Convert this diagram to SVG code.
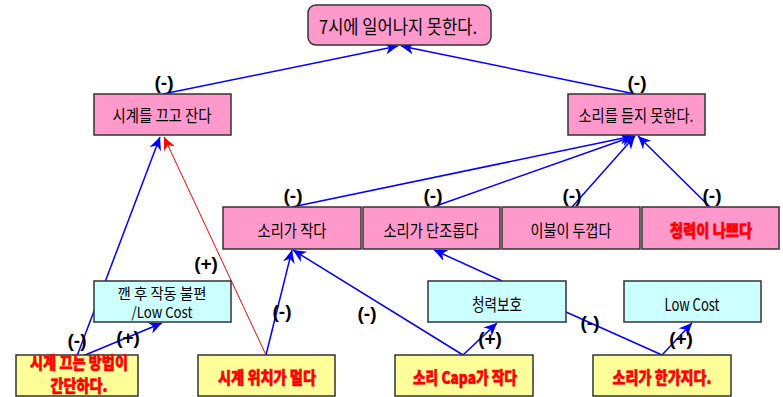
<svg xmlns="http://www.w3.org/2000/svg" width="783" height="397" viewBox="0 0 783 397">
<defs>
<marker id="ab" markerUnits="userSpaceOnUse" markerWidth="14" markerHeight="12" refX="13" refY="6" orient="auto"><path d="M0,0 L13,6 L0,12 L4,6 z" fill="#0000FF"/></marker>
<marker id="ar" markerUnits="userSpaceOnUse" markerWidth="14" markerHeight="12" refX="13" refY="6" orient="auto"><path d="M0,0 L13,6 L0,12 L4,6 z" fill="#FF0000"/></marker>
<style>
.pink{fill:#FF99CC;stroke:#333;stroke-width:1.5}
.cyan{fill:#CCFFFF;stroke:#333;stroke-width:1.5}
.yel{fill:#FFFF99;stroke:#333;stroke-width:1.5}
.t{font-family:"Noto Sans CJK KR","Liberation Sans",sans-serif;font-size:17px;fill:#000;text-anchor:middle}
.s{font-size:15px}
.xs{font-size:13px}
.r{font-family:"Noto Sans CJK KR","Liberation Sans",sans-serif;font-size:17px;font-weight:900;fill:#FF0000;stroke:#FF0000;stroke-width:0.6;text-anchor:middle}
.lb{font-family:"Liberation Sans","DejaVu Sans",sans-serif;font-size:19px;font-weight:bold;fill:#000;text-anchor:middle}
.cb{stroke:#0000FF;stroke-width:1.5;fill:none;marker-end:url(#ab)}
.cn{stroke:#0000FF;stroke-width:1.5;fill:none}
.cr{stroke:#FF0000;stroke-width:1;fill:none;marker-end:url(#ar)}
</style>
</defs>
<rect width="783" height="397" fill="#FFFFFF"/>
<g id="connectors">
<line class="cb" x1="163" y1="94" x2="398" y2="46"/>
<line class="cb" x1="635" y1="94" x2="401" y2="46"/>
<line class="cb" x1="292" y1="207" x2="633" y2="136"/>
<line class="cb" x1="433" y1="207" x2="634" y2="136"/>
<line class="cb" x1="572" y1="207" x2="635" y2="136"/>
<line class="cb" x1="710" y1="207" x2="638" y2="136"/>
<line class="cb" x1="77" y1="356" x2="160" y2="137"/>
<line class="cr" x1="266" y1="355" x2="164" y2="137"/>
<line class="cb" x1="266" y1="355" x2="292" y2="250"/>
<line class="cb" x1="463" y1="355" x2="293" y2="250"/>
<line class="cb" x1="463" y1="355" x2="497" y2="323"/>
<line class="cb" x1="502" y1="281" x2="434" y2="250"/>
<line class="cn" x1="662" y1="355" x2="566" y2="312"/>
<line class="cb" x1="662" y1="355" x2="692" y2="323"/>
<line class="cb" x1="78" y1="358" x2="162" y2="323"/>
</g>
<g id="labels">
<text class="lb" x="164" y="89">(-)</text>
<text class="lb" x="637" y="89">(-)</text>
<text class="lb" x="293" y="202">(-)</text>
<text class="lb" x="433" y="202">(-)</text>
<text class="lb" x="572" y="202">(-)</text>
<text class="lb" x="712" y="202">(-)</text>
<text class="lb" x="206" y="270">(+)</text>
<text class="lb" x="77" y="347">(-)</text>
<text class="lb" x="128" y="344">(+)</text>
<text class="lb" x="282" y="318">(-)</text>
<text class="lb" x="367" y="320">(-)</text>
<text class="lb" x="490" y="345">(+)</text>
<text class="lb" x="590" y="329">(-)</text>
<text class="lb" x="681" y="345">(+)</text>
</g>
<g id="n_top"><rect class="pink" x="308" y="5" width="183" height="40" rx="8"/><text class="t" x="398" y="34" style="font-size:19px" textLength="158" lengthAdjust="spacingAndGlyphs">7시에 일어나지 못한다.</text></g>
<g id="n_clock_off"><rect class="pink" x="94" y="94" width="137" height="41"/><text class="t" x="162" y="122" textLength="99" lengthAdjust="spacingAndGlyphs">시계를 끄고 잔다</text></g>
<g id="n_cant_hear"><rect class="pink" x="568" y="94" width="137" height="41"/><text class="t" x="636" y="122" textLength="115" lengthAdjust="spacingAndGlyphs">소리를 듣지 못한다.</text></g>
<g id="n_quiet"><rect class="pink" x="223" y="207" width="138" height="42"/><text class="t" x="292" y="237" textLength="69" lengthAdjust="spacingAndGlyphs">소리가 작다</text></g>
<g id="n_monotone"><rect class="pink" x="363" y="207" width="137" height="42"/><text class="t" x="431" y="237" textLength="95" lengthAdjust="spacingAndGlyphs">소리가 단조롭다</text></g>
<g id="n_blanket"><rect class="pink" x="502" y="207" width="138" height="42"/><text class="t" x="571" y="237" textLength="81" lengthAdjust="spacingAndGlyphs">이불이 두껍다</text></g>
<g id="n_hearing"><rect class="pink" x="642" y="207" width="137" height="42"/><text class="r" x="711" y="237" textLength="82" lengthAdjust="spacingAndGlyphs">청력이 나쁘다</text></g>
<g id="n_inconv"><rect class="cyan" x="94" y="281" width="137" height="41"/><text class="t s" x="162" y="299" textLength="89" lengthAdjust="spacingAndGlyphs">깬 후 작동 불편</text><text class="t s" x="162" y="318" textLength="61" lengthAdjust="spacingAndGlyphs">/Low Cost</text></g>
<g id="n_protect"><rect class="cyan" x="428" y="281" width="138" height="41"/><text class="t" x="497" y="311" textLength="50" lengthAdjust="spacingAndGlyphs">청력보호</text></g>
<g id="n_lowcost"><rect class="cyan" x="624" y="281" width="137" height="41"/><text class="t" x="692" y="311" textLength="55" lengthAdjust="spacingAndGlyphs">Low Cost</text></g>
<g id="n_easy_off"><rect class="yel" x="16" y="355" width="122" height="41"/><text class="r xs" x="79" y="369" textLength="98" lengthAdjust="spacingAndGlyphs">시계 끄는 방법이</text><text class="r xs" x="79" y="392" textLength="57" lengthAdjust="spacingAndGlyphs">간단하다.</text></g>
<g id="n_far"><rect class="yel" x="198" y="355" width="137" height="41"/><text class="r" x="267" y="384" textLength="98" lengthAdjust="spacingAndGlyphs">시계 위치가 멀다</text></g>
<g id="n_capa"><rect class="yel" x="395" y="355" width="138" height="41"/><text class="r" x="465" y="384" textLength="104" lengthAdjust="spacingAndGlyphs">소리 Capa가 작다</text></g>
<g id="n_one_sound"><rect class="yel" x="593" y="355" width="138" height="41"/><text class="r" x="662" y="384" textLength="99" lengthAdjust="spacingAndGlyphs">소리가 한가지다.</text></g>
</svg>
